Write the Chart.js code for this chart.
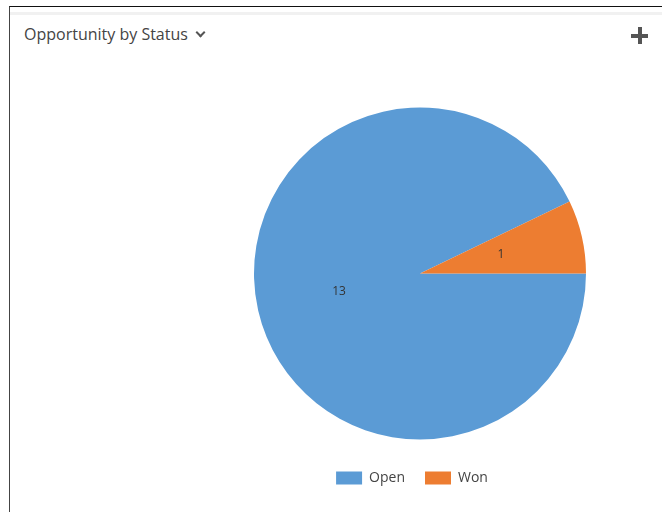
<!doctype html>
<html lang="en">
<head>
  <meta charset="utf-8" />
  <title>Opportunity by Status</title>
  <script src="https://cdn.jsdelivr.net/npm/chart.js@4"></script>
  <style>
    body { margin: 0; background: #fff; font-family: "Open Sans", "Noto Sans", sans-serif; }
    #panel { position: absolute; left: 9px; top: 6px; width: 653px; height: 506px;
             border-left: 1px solid #444; border-top: 1px solid #111; }
    #stripe { position: absolute; left: 0; top: 5px; width: 100%; height: 3px; background: #f1f1f1; }
    #title { position: absolute; left: 14px; top: 16px; font-size: 16px; color: #444; white-space: nowrap; }
    #chev { display: inline-block; width: 5px; height: 5px; margin-left: 9px; position: relative; top: -4px;
            border-right: 2px solid #555; border-bottom: 2px solid #555; transform: rotate(45deg); }
    #plus-h { position: absolute; left: 621px; top: 27px; width: 17px; height: 4px; background: #555; }
    #plus-v { position: absolute; left: 628px; top: 20px; width: 4px; height: 17px; background: #555; }
    #wrap { position: absolute; left: 162px; top: 93px; width: 516px; height: 405px; }
  </style>
</head>
<body>
<div id="panel">
  <div id="stripe"></div>
  <div id="title">Opportunity by Status<span id="chev"></span></div>
  <div id="plus-h"></div>
  <div id="plus-v"></div>
</div>
<div id="wrap"><canvas id="myChart"></canvas></div>

<script>
var statusLabels = ['Open', 'Won'];
var opportunityCounts = [13, 1];
var sliceColors = ['#5B9BD5', '#ED7D31'];

// draws the count in the middle of each slice
var sliceNumbers = {
  id: 'sliceNumbers',
  afterDatasetsDraw: function (chart) {
    var ctx = chart.ctx;
    var meta = chart.getDatasetMeta(0);
    ctx.save();
    ctx.font = '12px "Open Sans", sans-serif';
    ctx.fillStyle = '#333';
    ctx.textAlign = 'center';
    ctx.textBaseline = 'middle';
    meta.data.forEach(function (arc, i) {
      var p = arc.tooltipPosition();
      ctx.fillText(chart.data.datasets[0].data[i], p.x, p.y);
    });
    ctx.restore();
  }
};

// legend sits a bit left of the pie centre in the original
var legendNudge = {
  id: 'legendNudge',
  afterLayout: function (chart) {
    chart.legend.left -= 8;
    chart.legend.right -= 8;
    chart.legend.top -= 3;
    chart.legend.bottom -= 3;
  }
};

const ctx = document.getElementById('myChart');
const myChart = new Chart(ctx, {
  type: 'pie',
  data: {
    labels: statusLabels,
    datasets: [{
      data: opportunityCounts,
      backgroundColor: sliceColors,
      borderWidth: 0,
      hoverOffset: 0
    }]
  },
  options: {
    responsive: true,
    maintainAspectRatio: false,
    animation: false,
    rotation: 90,
    radius: 166,
    plugins: {
      tooltip: { enabled: false },
      legend: {
        position: 'bottom',
        labels: {
          boxWidth: 26,
          boxHeight: 13,
          padding: 20,
          color: '#444',
          font: { family: '"Open Sans", sans-serif', size: 14 }
        }
      }
    }
  },
  plugins: [sliceNumbers, legendNudge]
});
</script>
</body>
</html>
